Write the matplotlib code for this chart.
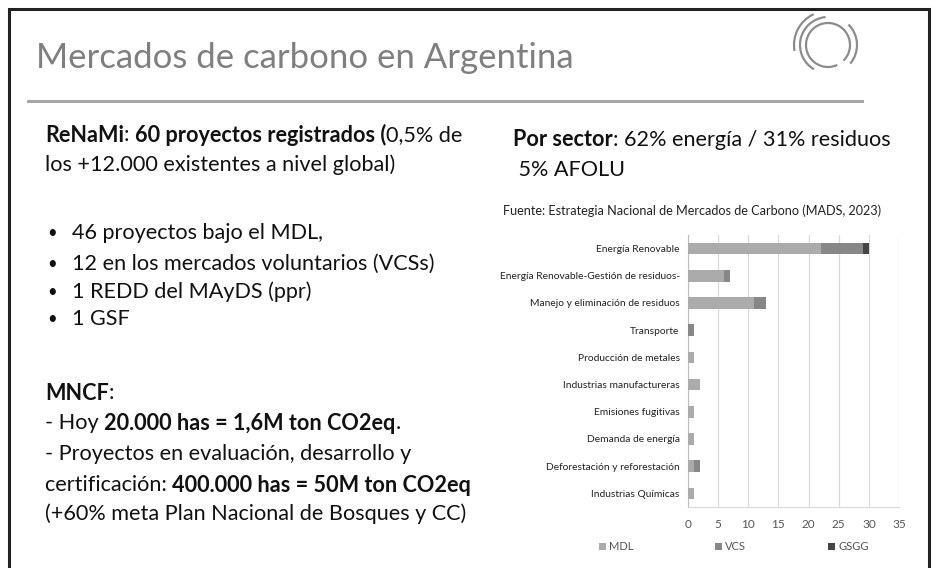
import matplotlib
matplotlib.use("Agg")
import matplotlib.pyplot as plt
from matplotlib.patches import Arc
import numpy as np

# datos del grafico (cantidad de proyectos por sector)
sectores = ["Energía Renovable", "Energía Renovable-Gestión de residuos-",
            "Manejo y eliminación de residuos", "Transporte", "Producción de metales",
            "Industrias manufactureras", "Emisiones fugitivas", "Demanda de energía",
            "Deforestación y reforestación", "Industrias Químicas"]
mdl = [22, 6, 11, 0, 1, 2, 1, 1, 1, 1]
vcs = [7, 1, 2, 1, 0, 0, 0, 0, 1, 0]
gsgg = [1, 0, 0, 0, 0, 0, 0, 0, 0, 0]
series = ["MDL", "VCS", "GSGG"]
colores = ["#ababab", "#878787", "#454545"]
ticks_x = [0, 5, 10, 15, 20, 25, 30, 35]

plt.rcParams['font.family'] = ['Lato', 'DejaVu Sans']

W, H = 939, 568
fig = plt.figure(figsize=(W / 100, H / 100), dpi=100)

# capa de fondo en pixeles (y hacia abajo)
bg = fig.add_axes([0, 0, 1, 1])
bg.set_xlim(0, W)
bg.set_ylim(H, 0)
bg.axis('off')

# marco de la diapositiva
bg.plot([9, 9, 929, 929], [H, 9, 9, H], color='#222222', lw=2.2, solid_joinstyle='miter')
# linea bajo el titulo
bg.plot([28, 862], [101, 101], color='#a6a6a6', lw=2.2)

# logo
gris_logo = '#8c8c8c'
for r, t1, t2 in [(22, -45, 295), (28, 95, 240), (34, 115, 190), (29, -40, 45)]:
    bg.add_patch(Arc((828, 45), 2 * r, 2 * r, theta1=-t2, theta2=-t1, color=gris_logo, lw=1.6))

bg.text(36, 58, "Mercados de carbono en Argentina", fontsize=25, color='#7f7f7f',
        va='center', ha='left')

renderer = fig.canvas.get_renderer()
inv = bg.transData.inverted()
TAM = 15.6


def linea(x, y, partes, size=TAM, color='#111111'):
    # dibuja un renglon con partes en negrita y normales
    for txt, negrita in partes:
        t = bg.text(x, y, txt, fontsize=size, color=color, va='center', ha='left',
                    fontweight='bold' if negrita else 'normal')
        bb = t.get_window_extent(renderer=renderer)
        x = inv.transform((bb.x1, bb.y0))[0]


linea(45, 135, [("ReNaMi", True), (": ", False), ("60 proyectos registrados (", True),
                ("0,5% de", False)])
linea(45, 165, [("los +12.000 existentes a nivel global)", False)])

bullets = [(233, "46 proyectos bajo el MDL,"), (264, "12 en los mercados voluntarios (VCSs)"),
           (292, "1 REDD del MAyDS (ppr)"), (319, "1 GSF")]
for y, txt in bullets:
    bg.text(47, y, "•", fontsize=12, color='#111111', va='center', ha='left')
    linea(72, y, [(txt, False)])

linea(45, 393, [("MNCF", True), (":", False)])
linea(45, 423, [("- Hoy ", False), ("20.000 has = 1,6M ton CO2eq", True), (".", False)])
linea(45, 454, [("- Proyectos en evaluación, desarrollo y", False)])
linea(45, 485, [("certificación: ", False), ("400.000 has = 50M ton CO2eq", True)])
linea(45, 514, [("(+60% meta Plan Nacional de Bosques y CC)", False)])

linea(513, 140, [("Por sector", True), (": 62% energía / 31% residuos", False)])
linea(513, 170, [(" 5% AFOLU", False)])
bg.text(503, 211, "Fuente: Estrategia Nacional de Mercados de Carbono (MADS, 2023)",
        fontsize=9.1, color='#222222', va='center', ha='left')

# grafico de barras apiladas
ax = fig.add_axes([688 / W, 1 - 507 / H, (899 - 688) / W, (507 - 235) / H])
y = np.arange(len(sectores))
izq = np.zeros(len(sectores))
for nombre, vals, c in zip(series, [mdl, vcs, gsgg], colores):
    ax.barh(y, vals, left=izq, height=0.42, color=c, label=nombre, zorder=3)
    izq = izq + np.array(vals)

ax.set_ylim(len(sectores) - 0.5, -0.5)
ax.set_xlim(0, 35)
ax.set_xticks(ticks_x)
ax.set_yticks(y)
ax.set_yticklabels(sectores, fontsize=7.4, color='#222222')
ax.tick_params(axis='x', labelsize=8.5, colors='#555555', length=0, pad=9)
ax.tick_params(axis='y', length=0, pad=6)
ax.grid(axis='x', color='#d9d9d9', lw=0.9, zorder=0)
for s in ['top', 'right']:
    ax.spines[s].set_visible(False)
ax.spines['left'].set_color('#bfbfbf')
ax.spines['bottom'].set_color('#d9d9d9')
ax.set_facecolor('none')

ax.legend(loc='center', bbox_to_anchor=((734 - 688) / (899 - 688), (507 - 547) / (507 - 235)),
          ncol=3, frameon=False, fontsize=8, handlelength=0.6, handleheight=0.6,
          handletextpad=0.3, columnspacing=7.35, labelcolor='#555555')

fig.savefig("out.png", dpi=100)
